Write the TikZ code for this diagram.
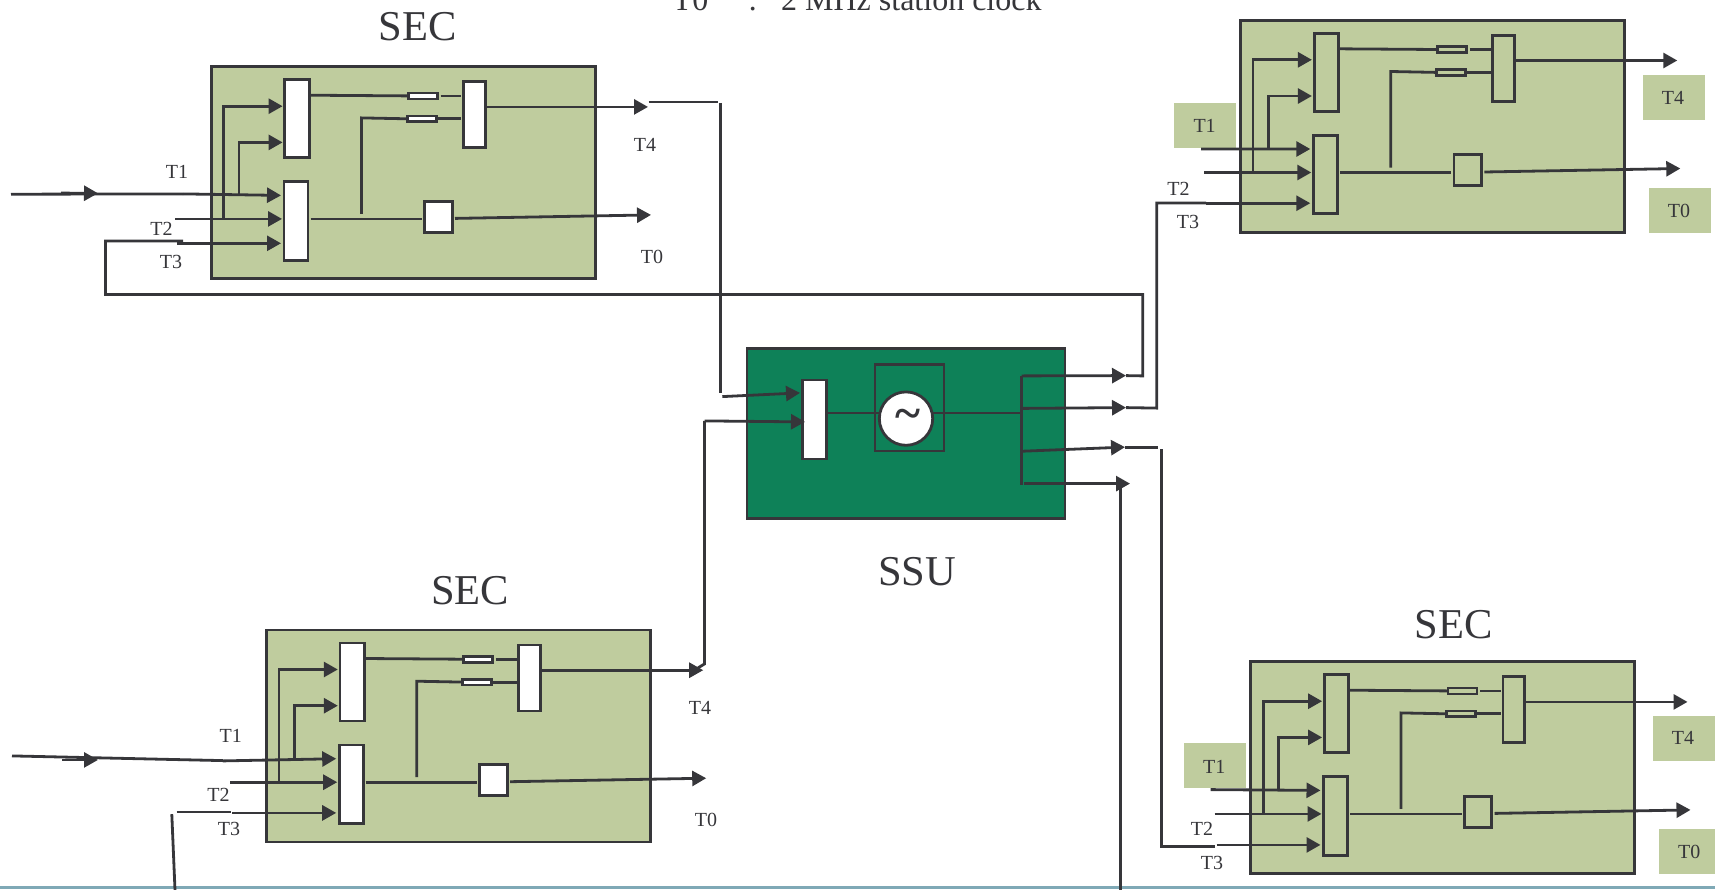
\documentclass[tikz,border=0pt]{standalone}
\usepackage{fontspec}
\setmainfont{Liberation Serif}
\usetikzlibrary{arrows.meta}
\definecolor{ink}{HTML}{36363A}
\definecolor{secgreen}{HTML}{BFCC9E}
\definecolor{ssugreen}{HTML}{0E8158}
\definecolor{rulecol}{HTML}{7FA9B6}
\tikzset{
  wire/.style={draw=ink,line width=2.8pt},
  arrowwire/.style={wire,-{Triangle[length=14pt,width=15pt]}},
  blockbox/.style={draw=ink,line width=2.8pt,inner sep=0pt,outer sep=0pt},
  modbox/.style={blockbox,fill=secgreen,minimum width=384pt,minimum height=212pt},
  tlab/.style={text=ink,font=\fontsize{20}{20}\selectfont,inner sep=0pt},
  titlelab/.style={text=ink,font=\fontsize{42.5}{42.5}\selectfont,inner sep=0pt},
  tagbox/.style={fill=secgreen,inner sep=0pt,minimum width=62pt,minimum height=44.7pt}
}
% prefix, dx, dy, inner fill, T3 y, T1 start
\newcommand{\secmodule}[6]{%
\begin{scope}[shift={(#2,#3)}]
  \node[modbox] (#1box) at (403.2,171.7) {};
  \node[blockbox,fill=#4,minimum width=24.3pt,minimum height=78pt] (#1um) at (297,117.7) {};
  \node[blockbox,fill=#4,minimum width=24pt,minimum height=78.6pt] (#1lm) at (296,220) {};
  \node[blockbox,fill=#4,minimum width=21.8pt,minimum height=66pt] (#1rm) at (474.3,113.7) {};
  \node[blockbox,fill=#4,minimum width=29pt,minimum height=6pt] (#1ra) at (423,95) {};
  \node[blockbox,fill=#4,minimum width=29pt,minimum height=5.7pt] (#1rb) at (421.8,117.9) {};
  \node[blockbox,fill=#4,minimum width=27.6pt,minimum height=31pt] (#1sq) at (438.4,215.8) {};
  \coordinate (#1t1s) at (#6);
  \coordinate (#1t1j) at (239,194.2);
  \coordinate (#1t1e) at (281,194.5);
  \coordinate (#1t2s) at (175,218);
  \coordinate (#1t2j) at (223.7,218);
  \coordinate (#1t2e) at (282,218);
  \coordinate (#1t3s) at (177,#5);
  \coordinate (#1t3e) at (281,#5);
  \coordinate (#1ua) at (282.6,105.3);
  \coordinate (#1ub) at (282.6,141.5);
  \coordinate (#1c1) at (223.7,105.3);
  \coordinate (#1c2) at (239,141.5);
  \coordinate (#1t4e) at (648,106);
  \coordinate (#1t0s) at (455,217.5);
  \coordinate (#1t0e) at (651,214);
  \coordinate (#1fb) at (361.5,213);
  \coordinate (#1fbt) at (361.5,117);
  \draw[arrowwire] (#1t1s) -- (#1t1e);
  \draw[arrowwire] (#1t2s) -- (#1t2e);
  \draw[arrowwire] (#1t3s) -- (#1t3e);
  \draw[arrowwire] (#1t2j) -- (#1c1) -- (#1ua);
  \draw[arrowwire] (#1t1j) -- (#1c2) -- (#1ub);
  \draw[wire] (#1um.east |- #1ra) ++(0,-0.7) -- (#1ra.west);
  \draw[wire] (#1ra.east) ++(3,0) -- ([xshift=-2pt]#1rm.west |- #1ra);
  \draw[wire] (#1fb) -- (#1fbt) -- (#1rb.west);
  \draw[wire] (#1rb.east) -- ([xshift=-2pt]#1rm.west |- #1rb);
  \draw[arrowwire] (#1rm.east |- #1t4e) -- (#1t4e);
  \draw[wire] ([xshift=2.5pt]#1lm.east |- #1t2s) -- ([xshift=-2.5pt]#1sq.west |- #1t2s);
  \draw[arrowwire] (#1t0s) -- (#1t0e);
\end{scope}}
\begin{document}
\begin{tikzpicture}[x=1pt,y=-1pt]
\useasboundingbox (0,0) rectangle (1715,889);
\clip (0,0) rectangle (1715,889);
\fill[rulecol] (0,886) rectangle (1715,888.6);

% caption cropped by the top edge
\node[anchor=base west,text=ink,font=\fontsize{32}{32}\selectfont,inner sep=0pt] (caption) at (672.5,10) {T0\hspace{40pt}:\hspace{24pt}2 MHz station clock};

\begin{scope}[yshift=-0.9pt]
% label tags behind the right-hand modules
\node[tagbox] (tagA) at (1205,124.3) {};
\node[tagbox] (tagB) at (1674,96.4) {};
\node[tagbox] (tagC) at (1680,209.4) {};
\node[tagbox] (tagD) at (1215,764.3) {};
\node[tagbox] (tagE) at (1684,737.4) {};
\node[tagbox] (tagF) at (1690,850.4) {};

\secmodule{ma}{0}{0}{white}{242.4}{183,193}
\secmodule{mb}{1029.3}{-46.4}{secgreen}{248.7}{171.7,194.4}
\secmodule{mc}{55.2}{563.3}{white}{248.7}{167.8,196.7}
\secmodule{md}{1039.5}{595}{secgreen}{249}{171,193.7}

% SSU
\node[blockbox,fill=ssugreen,minimum width=318pt,minimum height=170.3pt] (ssu) at (906,432.8) {};
\node[blockbox,fill=white,minimum width=24pt,minimum height=79pt] (ssumux) at (814.7,418.5) {};
\node[blockbox,minimum width=69pt,minimum height=86.7pt] (ssusq) at (909.5,406.7) {};
\coordinate (busT) at (1021.7,375);
\coordinate (busB) at (1021.7,484);
\coordinate (busM) at (1021.7,412);
\coordinate (busN) at (1021.7,407.5);
\coordinate (busP) at (1022.7,450.3);
\node[blockbox,fill=white,circle,minimum size=53.4pt] (osc) at (906,417.7) {};
\node[text=ink,font=\fontsize{48}{48}\selectfont\bfseries,inner sep=0pt] (tilde) at (908,418.5) {\textasciitilde};
\draw[wire] (ssumux.east |- busM) -- (osc.west |- busM);
\draw[wire] (osc.east |- busM) -- (busM);
\draw[wire] (busT) -- (busB);

\coordinate (o1) at (1126,374.7);
\coordinate (o2) at (1126,406.7);
\coordinate (o3) at (1125,446.2);
\coordinate (o4) at (1130,482.7);
\coordinate (o4s) at (1024,482.7);
\draw[arrowwire] (busT) -- (o1);
\draw[arrowwire] (busN) -- (o2);
\draw[arrowwire] (busP) -- (o3);
\draw[arrowwire] (o4s) -- (o4);

% external connectors
\coordinate (aup) at (1142.7,375);
\coordinate (atop) at (1142.7,293.5);
\coordinate (aleft) at (105.5,293.5);
\coordinate (ain) at (105.5,240);
\coordinate (aend) at (183,240);
\draw[wire] (o1) -- (aup) -- (atop) -- (aleft) -- (ain) -- (aend);

\coordinate (bup) at (1156.8,407.2);
\coordinate (btop) at (1156.8,202);
\coordinate (bend) at (1206,202);
\draw[wire] (o2) -- (bup) -- (btop) -- (bend);

\coordinate (cup) at (1158,446.2);
\draw[wire] (o3) -- (cup);
\coordinate (dtop) at (1161.7,448.5);
\coordinate (dbot) at (1161.7,845.3);
\coordinate (dend) at (1215,845.3);
\draw[wire] (dtop) -- (dbot) -- (dend);

\coordinate (ftop) at (1120.5,484);
\coordinate (fbot) at (1120.5,889);
\draw[wire] (fbot) -- (ftop);

\coordinate (gA) at (648.6,101);
\coordinate (gB) at (718,101);
\coordinate (gC) at (720.8,102);
\coordinate (gD) at (720.8,392.5);
\draw[wire] (gA) -- (gB);
\draw[wire] (gC) -- (gD);
\coordinate (h1s) at (722.3,395.7);
\coordinate (h1e) at (800,392);
\coordinate (h2s) at (704.5,420);
\coordinate (h2e) at (805,421);
\draw[arrowwire] (h1s) -- (h1e);
\draw[arrowwire] (h2s) -- (h2e);
\coordinate (h2b) at (704.5,663);
\coordinate (h2c) at (698,667);
\draw[wire] (h2s) -- (h2b) -- (h2c);

\coordinate (iA) at (176.5,811);
\coordinate (iB) at (231,811);
\coordinate (iC) at (171.8,813.3);
\coordinate (iD) at (175,889);
\draw[wire] (iA) -- (iB);
\draw[wire] (iC) -- (iD);

\coordinate (jA) at (11,193.3);
\coordinate (jB) at (183,193);
\draw[wire] (jA) -- (jB);
\coordinate (kA) at (61,192.2);
\coordinate (kB) at (98,192.4);
\draw[arrowwire] (kA) -- (kB);

\coordinate (lA) at (12,755);
\coordinate (lB) at (223,759.7);
\draw[wire] (lA) -- (lB);
\coordinate (nA) at (62,759);
\coordinate (nB) at (98,759);
\draw[arrowwire] (nA) -- (nB);

% titles
\node[titlelab] (sec1) at (417.5,25.5) {SEC};
\node[titlelab] (sec3) at (470,590) {SEC};
\node[titlelab] (sec4) at (1453.6,624) {SEC};
\node[titlelab] (ssut) at (917,570.5) {SSU};

% signal labels
\node[tlab] (a1) at (177,171) {T1};
\node[tlab] (a2) at (161.5,228) {T2};
\node[tlab] (a3) at (171,261) {T3};
\node[tlab] (a4) at (645,144) {T4};
\node[tlab] (a0) at (652,256) {T0};
\node[tlab] (b1) at (1204.6,125) {T1};
\node[tlab] (b2) at (1178.5,188) {T2};
\node[tlab] (b3) at (1188,220.7) {T3};
\node[tlab] (b4) at (1673,96.7) {T4};
\node[tlab] (b0) at (1679,210) {T0};
\node[tlab] (c1) at (230.8,734.8) {T1};
\node[tlab] (c2) at (218.5,794.3) {T2};
\node[tlab] (c3) at (229,828.5) {T3};
\node[tlab] (c4) at (700,706.7) {T4};
\node[tlab] (c0) at (706,819.3) {T0};
\node[tlab] (d1) at (1214.3,765.7) {T1};
\node[tlab] (d2) at (1202,828.3) {T2};
\node[tlab] (d3) at (1212,861.7) {T3};
\node[tlab] (d4) at (1683,737.3) {T4};
\node[tlab] (d0) at (1689.3,850.7) {T0};
\end{scope}
\end{tikzpicture}
\end{document}
